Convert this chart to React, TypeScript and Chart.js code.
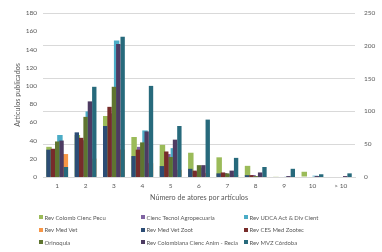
import React, { useEffect, useRef } from "react";
import { Chart, registerables } from "chart.js";

Chart.register(...registerables);

// Categories: number of authors per article
const categories = ["1", "2", "3", "4", "5", "6", "7", "8", "9", "10", "> 10"];

// Primary axis series (left, 0-180) - front cluster
const revMedVetZoot = [30, 49, 56, 23, 12, 9, 4, 2, 0, 0, 0];
const revCesMedZootec = [31, 43, 77, 30, 28, 7, 5, 2, 0, 0, 0];
const orinoquia = [39, 66, 99, 38, 22, 13, 4, 1, 0, 0, 0];
const revColCiencAnimRecia = [40, 83, 146, 50, 41, 13, 7, 5, 1, 1, 1];
const revMvzCordoba = [11, 99, 154, 100, 56, 63, 21, 11, 9, 3, 4];

// Secondary axis series (right, 0-250) - back cluster
const revColombCiencPecu = [46, 64, 93, 61, 49, 37, 30, 17, 1, 8, 0];
const ciencTecnolAgropecuaria = [39, 56, 97, 46, 35, 8, 6, 3, 0, 0, 0];
const revUdcaActDivCient = [64, 100, 208, 71, 44, 14, 4, 1, 1, 2, 0];
const revMedVet = [35, 28, 42, 21, 11, 6, 3, 1, 0, 0, 0];

const FONT = "Lato, 'Liberation Sans', sans-serif";
const TXT = "#595959";
const CLUSTER = 0.77; // share of a category taken by a cluster

type Series = { label: string; data: number[]; color: string; secondary: boolean; slot: string };

// slots: 7 shared slots; front uses s1..s5 (1 slot wide), back uses s0,s2,s4,s6 (2 slots wide)
const series: Series[] = [
  { label: "Rev Colomb Cienc Pecu", data: revColombCiencPecu, color: "#9bbb59", secondary: true, slot: "s0" },
  { label: "Cienc Tecnol Agropecuaria", data: ciencTecnolAgropecuaria, color: "#8064a2", secondary: true, slot: "s2" },
  { label: "Rev UDCA Act & Div Cient", data: revUdcaActDivCient, color: "#4bacc6", secondary: true, slot: "s4" },
  { label: "Rev Med Vet", data: revMedVet, color: "#f79646", secondary: true, slot: "s6" },
  { label: "Rev Med Vet Zoot", data: revMedVetZoot, color: "#2c4d75", secondary: false, slot: "s1" },
  { label: "Rev CES Med Zootec", data: revCesMedZootec, color: "#772c2a", secondary: false, slot: "s2" },
  { label: "Orinoquia", data: orinoquia, color: "#5f7530", secondary: false, slot: "s3" },
  { label: "Rev Colombiana Cienc Anim - Recia", data: revColCiencAnimRecia, color: "#4d3b62", secondary: false, slot: "s4" },
  { label: "Rev MVZ Córdoba", data: revMvzCordoba, color: "#276a7c", secondary: false, slot: "s5" },
];

const legendCols = [39, 141, 244];
const legendRows = [217, 229.5, 242];

export default function App() {
  const ref = useRef<HTMLCanvasElement | null>(null);

  useEffect(() => {
    if (!ref.current) return;
    const datasets: any[] = [
      // empty placeholder that fixes slot s0 as the first slot
      { label: "_slot", data: [], stack: "s0", order: -1, yAxisID: "y", backgroundColor: "rgba(0,0,0,0)" },
      ...series.map((s) => ({
        label: s.label,
        data: s.data,
        backgroundColor: s.color,
        borderWidth: 0,
        stack: s.slot,
        yAxisID: s.secondary ? "y1" : "y",
        order: s.secondary ? 1 : 0,
        categoryPercentage: s.secondary ? CLUSTER * 0.875 : CLUSTER * 1.4,
        barPercentage: s.secondary ? 2 : 1,
      })),
    ];
    const chart = new Chart(ref.current, {
      type: "bar",
      data: { labels: categories, datasets },
      options: {
        animation: false,
        responsive: false,
        devicePixelRatio: 1,
        layout: { padding: { left: 0, right: 0, top: 13, bottom: 50 } },
        plugins: { legend: { display: false }, tooltip: { enabled: false } },
        scales: {
          x: {
            type: "category",
            position: "bottom",
            offset: true,
            grid: { display: false, drawTicks: false },
            border: { display: true, color: "#d9d9d9" },
            ticks: { color: TXT, font: { family: FONT, size: 6.5 }, padding: 5, maxRotation: 0, autoSkip: false },
            title: {
              display: true,
              text: "Número de atores por artículos",
              color: TXT,
              font: { family: FONT, size: 7.2 },
              padding: { top: 0, bottom: 0 },
            },
            afterFit: (s: any) => {
              s.height = 25;
            },
          },
          y: {
            type: "linear",
            position: "left",
            stacked: false,
            min: 0,
            max: 180,
            grid: { display: false, drawTicks: false },
            border: { display: false },
            ticks: { stepSize: 20, color: TXT, font: { family: FONT, size: 6.5 }, padding: 6 },
            title: {
              display: true,
              text: "Artículos publicados",
              color: TXT,
              font: { family: FONT, size: 7.2 },
              padding: { top: 13.7, bottom: 0 },
            },
            afterFit: (s: any) => {
              s.width = 43;
            },
          },
          y1: {
            type: "linear",
            position: "right",
            stacked: false,
            min: 0,
            max: 250,
            grid: { display: true, color: "#d9d9d9", lineWidth: 1, drawTicks: false },
            border: { display: false },
            ticks: { stepSize: 50, color: TXT, font: { family: FONT, size: 6.5 }, padding: 9 },
            afterFit: (s: any) => {
              s.width = 27;
            },
          },
        },
      },
    });
    return () => chart.destroy();
  }, []);

  return (
    <div style={{ position: "absolute", left: 0, top: 0, width: 382, height: 252, background: "#fff", overflow: "hidden" }}>
      <canvas ref={ref} width={382} height={252} style={{ display: "block", width: 382, height: 252 }} />
      {series.map((s, i) => {
        const col = i % 3;
        const row = Math.floor(i / 3);
        return (
          <div
            key={s.label}
            style={{
              position: "absolute",
              left: legendCols[col],
              top: legendRows[row] - 5,
              height: 10,
              display: "flex",
              alignItems: "center",
              fontFamily: FONT,
              fontSize: 5.9,
              color: TXT,
              whiteSpace: "nowrap",
            }}
          >
            <span style={{ display: "inline-block", width: 4, height: 4, background: s.color, marginRight: 1.5 }} />
            <span>{s.label}</span>
          </div>
        );
      })}
    </div>
  );
}
